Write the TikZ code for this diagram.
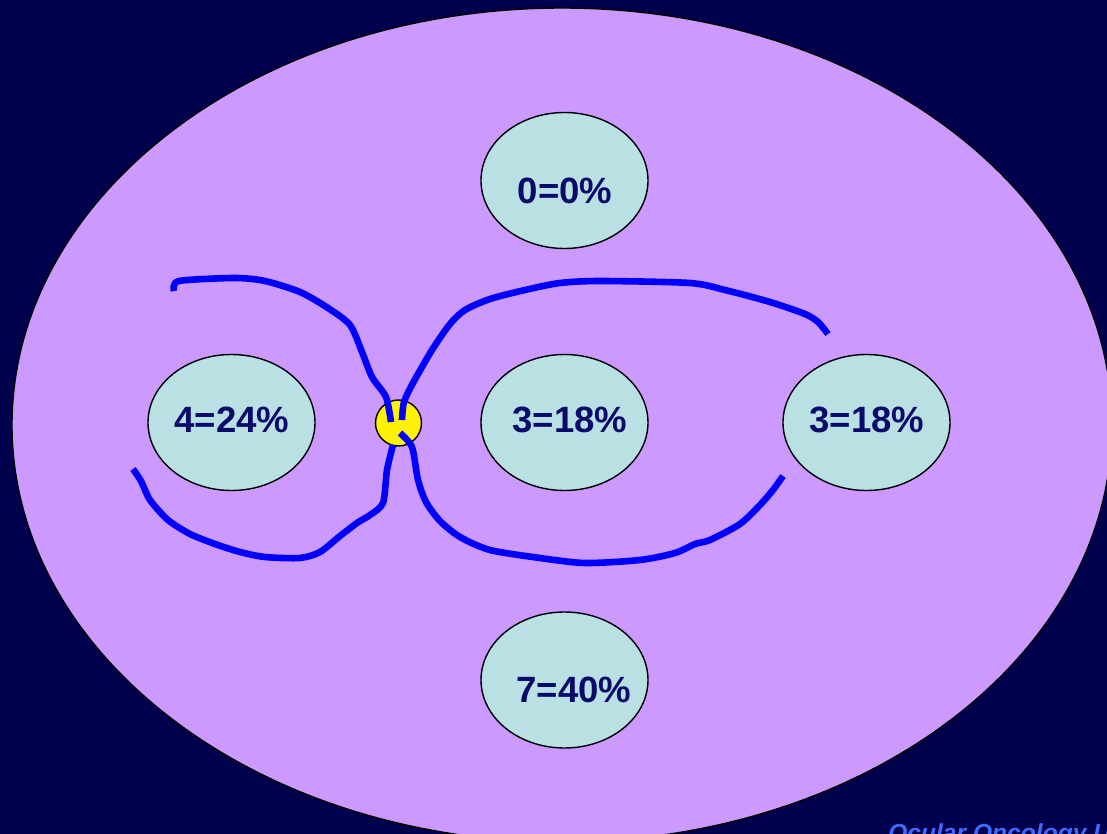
\documentclass[tikz,border=0pt]{standalone}
\usepackage{fontspec}
\setmainfont{Liberation Sans}
\usetikzlibrary{shapes.geometric}
\definecolor{bgnavy}{HTML}{00004C}
\definecolor{lilac}{HTML}{CC99FF}
\definecolor{paleteal}{HTML}{B9E1E3}
\definecolor{txtnavy}{HTML}{0A0A6A}
\definecolor{penblue}{HTML}{0000FF}
\definecolor{footblue}{HTML}{3D6BFF}
\tikzset{
  bubble/.style={ellipse,draw=black,line width=1pt,fill=paleteal,minimum width=167*0.025cm,minimum height=136*0.025cm,inner sep=0pt},
  pct/.style={font=\bfseries\fontsize{26}{30}\selectfont,text=txtnavy,inner sep=0pt},
  pen/.style={draw=penblue,line width=0.165cm,line cap=butt,line join=round},
}
\begin{document}
\begin{tikzpicture}[x=0.025cm,y=-0.025cm]
\useasboundingbox (0,0) rectangle (1107,834);
\clip (0,0) rectangle (1107,834);
\fill[bgnavy] (0,0) rectangle (1107,834);
\node[ellipse,draw=black,line width=1pt,fill=lilac,minimum width=1100*0.025cm,minimum height=834*0.025cm,inner sep=0pt] (big) at (562,425) {};
% bubbles
\node[bubble] (b0) at (564.5,180.5) {};
\node[bubble] (bl) at (231.5,422.5) {};
\node[bubble] (bc) at (564.5,422.5) {};
\node[bubble] (br) at (866.5,422.5) {};
\node[bubble] (bb) at (564.5,680) {};
\node[pct] (t0) at (565,191) {0=0\%};
\node[pct] (tl) at (232,420) {4=24\%};
\node[pct] (tc) at (570,420) {3=18\%};
\node[pct] (tr) at (867,420) {3=18\%};
\node[pct] (tb) at (574,690) {7=40\%};
% yellow junction
\node[circle,draw=black,line width=1pt,fill=yellow,minimum size=46*0.025cm,inner sep=0pt] (hub) at (398.5,423) {};
% blue strands
\draw[pen] plot[smooth,tension=0.45] coordinates {(174,291) (179,281) (235,278) (265,281) (300,292) (328,308) (350,325) (362,352) (372,377) (386,397) (391,422)};
\draw[pen] plot[smooth,tension=0.45] coordinates {(828,334) (818,322) (805,314) (770,302) (725,290) (690,283) (600,281) (560,283) (525,290) (490,299) (465,310) (450,324) (432,350) (413,383) (404,402) (402,420)};
\draw[pen] plot[smooth,tension=0.45] coordinates {(400,433) (412,447) (418,480) (426,502) (440,521) (460,537) (490,550) (540,558) (585,563) (640,560) (675,553) (695,544) (710,540) (740,524) (760,505) (773,490) (783,476)};
\draw[pen] plot[smooth,tension=0.45] coordinates {(393,445) (387,470) (383,503) (370,515) (357,523) (340,536) (320,552) (300,558) (265,557) (240,552) (215,544) (190,534) (168,520) (150,500) (141,481) (133,469)};
% footer
\node[anchor=base west,inner sep=0pt,text=footblue,font=\bfseries\itshape\fontsize{17.5}{20}\selectfont] (foot) at (888,841) {Ocular Oncology Unit};
\end{tikzpicture}
\end{document}
